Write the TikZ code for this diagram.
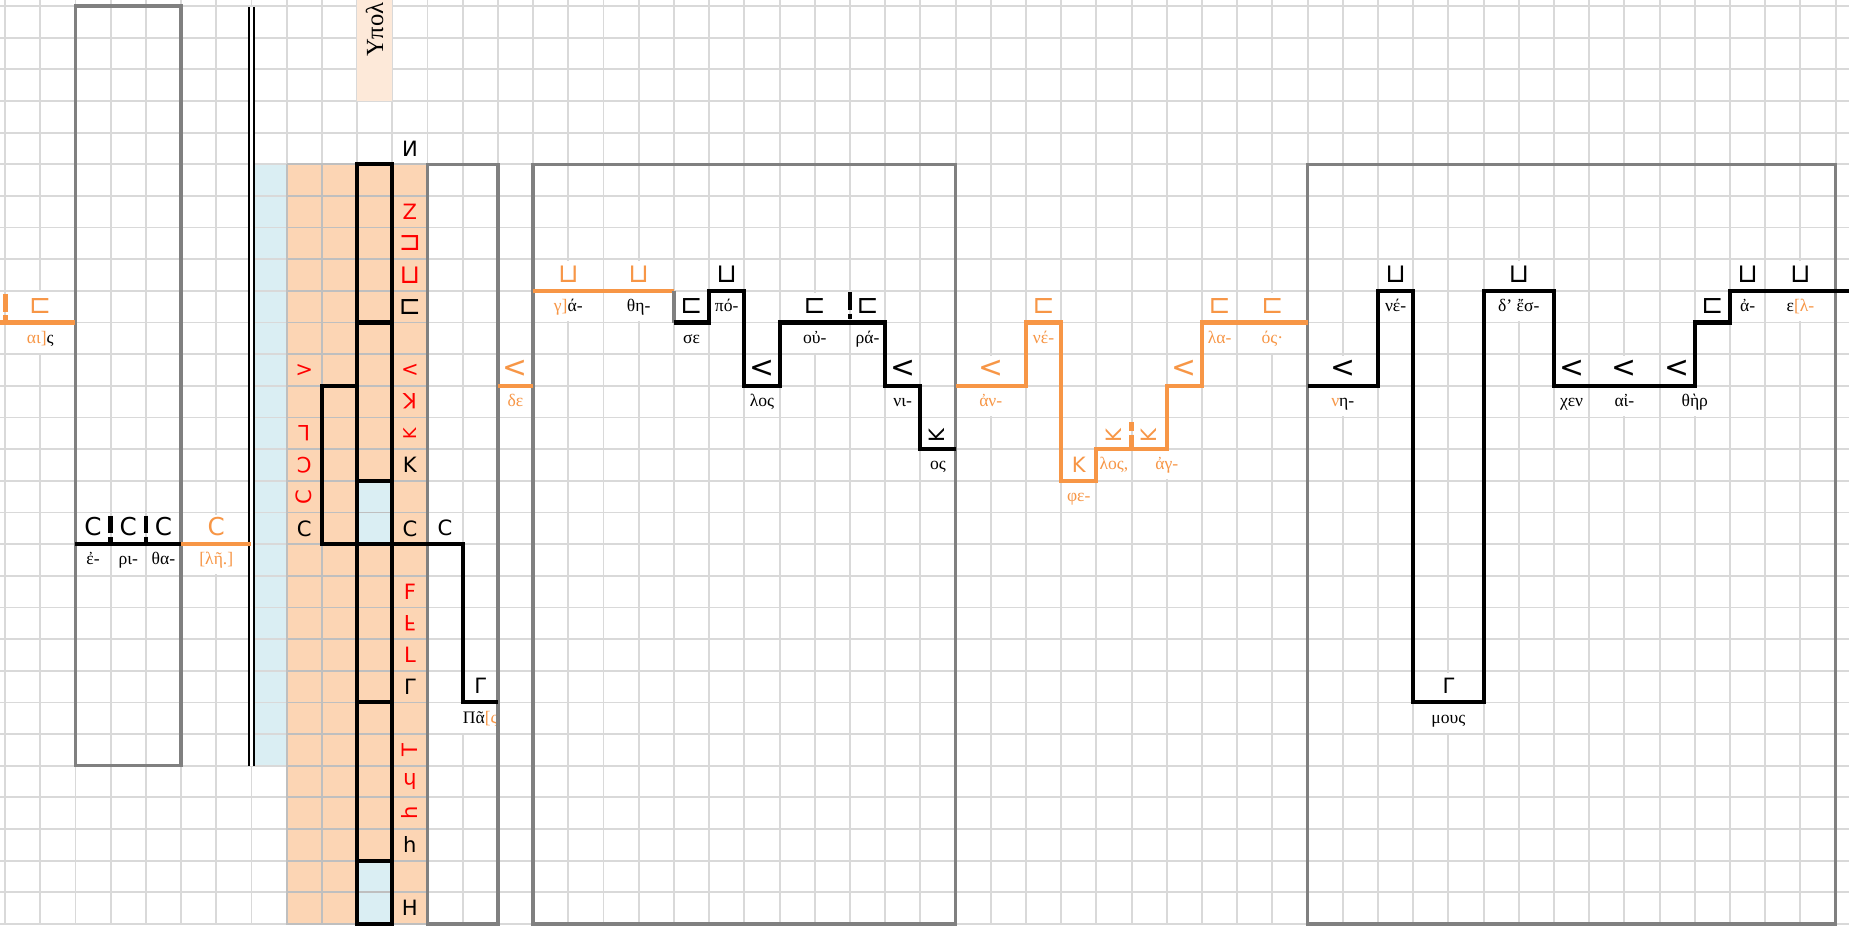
\documentclass[tikz,border=0pt]{standalone}
\usepackage{fontspec}
\setmainfont{Liberation Serif}
\newfontfamily\symfont{DejaVu Sans}
\usepackage{xcolor}
\usepackage{tikz}
\usetikzlibrary{positioning, backgrounds, calc}
\definecolor{orng}{HTML}{F79646}
\definecolor{peach}{HTML}{FCD5B4}
\definecolor{paleblue}{HTML}{DAEEF3}
\definecolor{paleorng}{HTML}{FDE9D9}
\definecolor{gridgray}{HTML}{D9D9D9}
\definecolor{darkgrid}{HTML}{BFBFBF}
\definecolor{boxgray}{HTML}{808080}

\begin{document}
\begin{tikzpicture}[x=0.704cm, y=-0.6332cm,
  gridline/.style={draw=gridgray, line width=1.1pt},
  darkline/.style={draw=darkgrid, line width=1.1pt},
  frame/.style={draw=boxgray, line width=1.9pt},
  blk/.style={draw=black, line width=2.3pt},
  org/.style={draw=orng, line width=2.3pt},
  sepbar/.style={line width=2.6pt, dash pattern=on 10pt off 2pt on 4pt off 40pt},
  sym/.style={anchor=base, inner xsep=1.5pt, inner ysep=0pt, fill=white, text height=12pt, text depth=4pt, font=\symfont\fontsize{15}{15}\selectfont},
  osym/.style={sym, text=orng},
  lt/.style={font=\symfont\fontsize{17}{17}\selectfont},
  bigc/.style={font=\symfont\fontsize{14}{14}\selectfont},
  letter/.style={font=\symfont\fontsize{12}{12}\selectfont},
  turned/.style={anchor=center, rotate=90},
  syl/.style={anchor=base, inner xsep=1pt, inner ysep=0pt, fill=white, text height=11pt, text depth=5.5pt, font=\fontsize{10}{10}\selectfont},
  osyl/.style={syl, text=orng},
  cellsym/.style={inner sep=0pt, font=\symfont\fontsize{12}{12}\selectfont},
  rcellsym/.style={cellsym, text=red},
  sqfont/.style={font=\symfont\fontsize{15}{15}\selectfont}]

\useasboundingbox (-0.144,-0.186) rectangle (52.38,29.03);

\fill[peach] (8,5) rectangle (12,29.03);
\fill[paleblue] (7,5) rectangle (8,24);
\fill[paleblue] (10,15) rectangle (11,17);
\fill[paleblue] (10,27) rectangle (11,29.03);

\foreach \c in {0,...,52}
  \draw[gridline] (\c,-0.186) -- (\c,29.03);
\foreach \r in {0,...,29}
  \draw[gridline] (-0.144,\r) -- (52.38,\r);
\foreach \c in {8,9,10,11,12}
  \draw[darkline] (\c,5) -- (\c,29.03);
\foreach \r in {5,...,29}
  \draw[darkline] (8,\r) -- (12,\r);

\fill[paleorng] (10,-0.186) rectangle (11,3);
\fill[white] (0.04,9.04) rectangle (1.96,10.96);
\node[rotate=90, anchor=west, inner sep=0pt, font=\fontsize{14}{14}\selectfont] (ypol) at (10.5,1.62) {Υπολ};

\draw[draw=black, line width=1.2pt, double=white, double distance=1.2pt] (7,0.03) -- (7,24);

% left columns
\node[osym] (sqL) at (1,9.73) {⊏};
\node[syl] (ai) at (1,10.65) {\textcolor{orng}{αι]}ς};
\node[sym, bigc] (cA) at (2.5,16.73) {C};
\node[sym, bigc] (cB) at (3.5,16.73) {C};
\node[sym, bigc] (cC) at (4.5,16.73) {C};
\node[syl] (eA) at (2.5,17.65) {ἐ-};
\node[syl] (eB) at (3.5,17.65) {ρι-};
\node[syl] (eC) at (4.5,17.65) {θα-};
\node[osym, bigc] (cD) at (6,16.73) {C};
\node[osyl] (lee) at (6,17.65) {[λῆ.]};

% sideways columns
\node[cellsym] (n4) at (11.5,4.5) {\reflectbox{N}};
\node[rcellsym] (n6) at (11.5,6.5) {Z};
\node[rcellsym, sqfont] (n7) at (11.5,7.5) {⊐};
\node[rcellsym, sqfont] (n8) at (11.5,8.5) {⊔};
\node[cellsym, sqfont] (n9) at (11.5,9.5) {⊏};
\node[rcellsym] (n11) at (11.5,11.5) {<};
\node[rcellsym, rotate=180] (n12) at (11.5,12.5) {K};
\node[rcellsym, rotate=90, font=\symfont\fontsize{10}{10}\selectfont] (n13) at (11.5,13.5) {K};
\node[cellsym] (n14) at (11.5,14.5) {K};
\node[cellsym] (n16) at (11.5,16.5) {C};
\node[rcellsym] (n18) at (11.5,18.5) {F};
\node[rcellsym] (n19) at (11.5,19.5) {\scalebox{1}[-1]{F}};
\node[rcellsym] (n20) at (11.5,20.5) {L};
\node[cellsym] (n21) at (11.5,21.5) {Γ};
\node[rcellsym, rotate=90] (n23) at (11.5,23.5) {T};
\node[rcellsym, rotate=180] (n24) at (11.5,24.5) {h};
\node[rcellsym, rotate=90] (n25) at (11.5,25.5) {h};
\node[cellsym] (n26) at (11.5,26.5) {h};
\node[cellsym] (n28) at (11.5,28.5) {H};
\node[rcellsym, rotate=180] (m11) at (8.5,11.5) {<};
\node[rcellsym, rotate=180] (m13) at (8.5,13.5) {L};
\node[rcellsym, rotate=180] (m14) at (8.5,14.5) {C};
\node[rcellsym, rotate=90] (m15) at (8.5,15.5) {C};
\node[cellsym] (m16) at (8.5,16.5) {C};

\node[sym, letter] (cE) at (12.5,16.73) {C};
\node[sym, letter] (gA) at (13.5,21.73) {Γ};
\node[syl] (pas) at (13.5,22.65) {Πᾶ\textcolor{orng}{[ς}};
\node[osym, lt] (ltA) at (14.5,11.73) {<};
\node[osyl] (de) at (14.5,12.65) {δε};

% first frame
\node[osym] (cupA) at (16,8.73) {⊔};
\node[osyl] (ga) at (16,9.65) {γ]\textcolor{black}{ά-}};
\node[osym] (cupB) at (18,8.73) {⊔};
\node[syl] (the) at (18,9.65) {θη-};
\node[sym] (sqA) at (19.5,9.73) {⊏};
\node[syl] (se) at (19.5,10.65) {σε};
\node[sym] (cupC) at (20.5,8.73) {⊔};
\node[syl] (po) at (20.5,9.65) {πό-};
\node[sym, lt] (ltB) at (21.5,11.73) {<};
\node[syl] (los) at (21.5,12.65) {λος};
\node[sym] (sqB) at (23,9.73) {⊏};
\node[syl] (ou) at (23,10.65) {οὐ-};
\node[sym] (sqC) at (24.5,9.73) {⊏};
\node[syl] (ra) at (24.5,10.65) {ρά-};
\node[sym, lt] (ltC) at (25.5,11.73) {<};
\node[syl] (ni) at (25.5,12.65) {νι-};
\node[sym, letter, turned] (kA) at (26.5,13.58) {K};
\node[syl] (os) at (26.5,14.65) {ος};

% between frames
\node[osym, lt] (ltD) at (28,11.73) {<};
\node[osyl] (an) at (28,12.65) {ἀν-};
\node[osym] (sqD) at (29.5,9.73) {⊏};
\node[osyl] (ne) at (29.5,10.65) {νέ-};
\node[osym, letter] (kB) at (30.5,14.73) {K};
\node[osyl] (phe) at (30.5,15.65) {φε-};
\node[osym, letter, turned] (kC) at (31.5,13.58) {K};
\node[osyl] (losB) at (31.5,14.65) {λος,};
\node[osym, letter, turned] (kD) at (32.5,13.58) {K};
\node[osyl] (ag) at (33,14.65) {ἀγ-};
\node[osym, lt] (ltE) at (33.5,11.73) {<};
\node[osym] (sqE) at (34.5,9.73) {⊏};
\node[osyl] (la) at (34.5,10.65) {λα-};
\node[osym] (sqF) at (36,9.73) {⊏};
\node[osyl] (osB) at (36,10.65) {ός·};

% second frame
\node[sym, lt] (ltF) at (38,11.73) {<};
\node[syl] (nh) at (38,12.65) {\textcolor{orng}{ν}η-};
\node[sym] (cupD) at (39.5,8.73) {⊔};
\node[syl] (neB) at (39.5,9.65) {νέ-};
\node[sym, letter] (gB) at (41,21.73) {Γ};
\node[syl] (mous) at (41,22.65) {μους};
\node[sym] (cupE) at (43,8.73) {⊔};
\node[syl] (des) at (43,9.65) {δ' ἔσ-};
\node[sym, lt] (ltG) at (44.5,11.73) {<};
\node[syl] (xen) at (44.5,12.65) {χεν};
\node[sym, lt] (ltH) at (46,11.73) {<};
\node[syl] (aiB) at (46,12.65) {αἰ-};
\node[sym, lt] (ltI) at (47.5,11.73) {<};
\node[syl] (ther) at (48,12.65) {θὴρ};
\node[sym] (sqG) at (48.5,9.73) {⊏};
\node[sym] (cupF) at (49.5,8.73) {⊔};
\node[syl] (aB) at (49.5,9.65) {ἀ-};
\node[sym] (cupG) at (51,8.73) {⊔};
\node[syl] (el) at (51,9.65) {ε\textcolor{orng}{[λ-}};

\draw[frame] (2,0) rectangle (5,24);
\draw[frame] (12,5) rectangle (14,29);
\draw[frame] (15,5) rectangle (27,29);
\draw[frame] (37,5) rectangle (52,29);

\draw[blk] (10,5) rectangle (11,29);
\draw[blk] (10,10) -- (11,10);
\draw[blk] (10,15) -- (11,15);
\draw[blk] (10,22) -- (11,22);
\draw[blk] (10,27) -- (11,27);
\draw[blk] (10,12) -- (9,12) -- (9,17) -- (13,17) -- (13,22) -- (14,22);

\draw[org] (-0.144,10) -- (2,10);
\draw[blk] (2,17) -- (5,17);
\draw[org] (5,17) -- (7,17);
\draw[org] (14,12) -- (15,12);
\draw[org] (15,9) -- (19,9);
\draw[frame] (19,9) -- (19,10);
\draw[blk] (19,10) -- (20,10) -- (20,9) -- (21,9) -- (21,12) -- (22,12) -- (22,10) -- (25,10) -- (25,12) -- (26,12) -- (26,14) -- (27,14);
\draw[org] (27,12) -- (29,12) -- (29,10) -- (30,10) -- (30,15) -- (31,15) -- (31,14) -- (33,14) -- (33,12) -- (34,12) -- (34,10) -- (37,10);
\draw[blk] (37,12) -- (39,12) -- (39,9) -- (40,9) -- (40,22) -- (42,22) -- (42,9) -- (44,9) -- (44,12) -- (48,12) -- (48,10) -- (49,10) -- (49,9) -- (52.38,9);

\draw[sepbar, orng] (0.02,9.1) -- (0.02,9.95);
\draw[sepbar] (3,16.1) -- (3,16.95);
\draw[sepbar] (4,16.1) -- (4,16.95);
\draw[sepbar] (24,9.05) -- (24,9.9);
\draw[sepbar, orng, dash pattern=on 5pt off 2pt on 8pt off 40pt] (32,13.15) -- (32,13.95);
\end{tikzpicture}
\end{document}
